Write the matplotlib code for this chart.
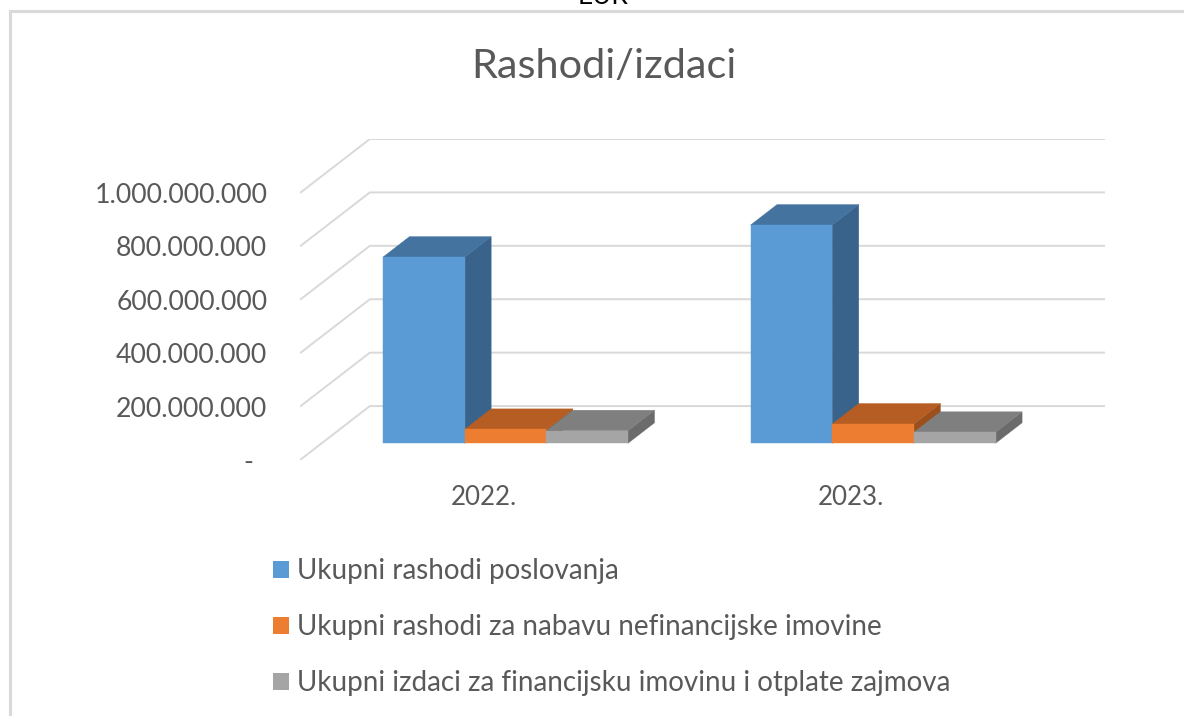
import matplotlib
matplotlib.use("Agg")
import matplotlib.pyplot as plt
from matplotlib.patches import Polygon, Patch
from matplotlib.ticker import FuncFormatter

plt.rcParams['font.family'] = ['Lato', 'DejaVu Sans']

years = ['2022.', '2023.']
series = ['Ukupni rashodi poslovanja',
          'Ukupni rashodi za nabavu nefinancijske imovine',
          'Ukupni izdaci za financijsku imovinu i otplate zajmova']
rashodi_poslovanja = [697e6, 817e6]
nabava_nefin = [52e6, 72e6]
izdaci_fin = [47e6, 41e6]
yticks = [0, 200e6, 400e6, 600e6, 800e6, 1000e6]

front_cols = ['#5B9BD5', '#ED7D31', '#A5A5A5']
top_cols = ['#44739F', '#B55D22', '#7F7F7F']
side_cols = ['#39638A', '#9A4F1D', '#6B6B6B']
txt_col = '#595959'
grid_col = '#D9D9D9'

# oblique 3d: full depth shifts x by DX category units and y by DY value units
DX = 0.19
DY = 202e6
D0, D1 = 0.31, 0.69
GAP = 0.1667


def proj(x, v, d):
    return (x + d * DX, v + d * DY)


def bar3d(ax, x0, x1, v, j):
    front = [proj(x0, 0, D0), proj(x1, 0, D0), proj(x1, v, D0), proj(x0, v, D0)]
    top = [proj(x0, v, D0), proj(x1, v, D0), proj(x1, v, D1), proj(x0, v, D1)]
    side = [proj(x1, 0, D0), proj(x1, 0, D1), proj(x1, v, D1), proj(x1, v, D0)]
    for pts, c in ((side, side_cols[j]), (top, top_cols[j]), (front, front_cols[j])):
        ax.add_patch(Polygon(pts, closed=True, fc=c, ec=c, lw=0.3, zorder=3))


def fmt(v, pos):
    if v == 0:
        return '-  '
    return '{:,.0f}'.format(v).replace(',', '.')


if __name__ == '__main__':
    fig = plt.figure(figsize=(11.84, 7.16), dpi=100)
    ax = fig.add_axes([300 / 1184, (716 - 460) / 716, 805 / 1184, 321 / 716])
    ncat = len(years)
    ax.set_xlim(0, ncat + DX)
    ax.set_ylim(0, yticks[-1] + DY)
    for s in ax.spines.values():
        s.set_visible(False)

    # walls grid
    for v in yticks:
        a = proj(0, v, 0)
        b = proj(0, v, 1)
        c = proj(ncat, v, 1)
        ax.plot([a[0], b[0], c[0]], [a[1], b[1], c[1]], color=grid_col, lw=1.4,
                zorder=1, solid_capstyle='butt')

    data = [rashodi_poslovanja, nabava_nefin, izdaci_fin]
    w = (1 - 2 * GAP) / len(data)
    for i in range(ncat):
        for j in range(len(data)):
            x0 = i + GAP + j * w
            bar3d(ax, x0, x0 + w, data[j][i], j)

    ax.set_yticks(yticks)
    ax.yaxis.set_major_formatter(FuncFormatter(fmt))
    ax.tick_params(axis='y', length=0, pad=23.5, labelsize=19.2, labelcolor=txt_col)
    ax.set_xticks([i + 0.5 for i in range(ncat)])
    ax.set_xticklabels(years)
    ax.tick_params(axis='x', length=0, pad=18, labelsize=18.7, labelcolor=txt_col)

    fig.text(604 / 1184, 1 - 78.5 / 716, 'Rashodi/izdaci', ha='center', va='baseline',
             fontsize=29.8, color=txt_col)
    fig.text(603 / 1184, 1 - 4.5 / 716, 'EUR', ha='center', va='baseline',
             fontsize=19, color='black')

    # chart frame
    fig.add_artist(plt.Line2D([9.5 / 1184, 9.5 / 1184], [0, 1 - 10.5 / 716],
                              transform=fig.transFigure, color=grid_col, lw=2.2))
    fig.add_artist(plt.Line2D([9.5 / 1184, 1], [1 - 10.5 / 716, 1 - 10.5 / 716],
                              transform=fig.transFigure, color=grid_col, lw=2.2))

    handles = [Patch(fc=front_cols[j], ec='none') for j in range(len(series))]
    fig.legend(handles, series, loc='upper left', bbox_to_anchor=(273 / 1184, 1 - 558 / 716),
               frameon=False, fontsize=20, labelcolor=txt_col, handlelength=0.58,
               handleheight=0.58, handletextpad=0.3, borderpad=0, borderaxespad=0,
               labelspacing=1.08)

    plt.savefig('out.png', dpi=100)
